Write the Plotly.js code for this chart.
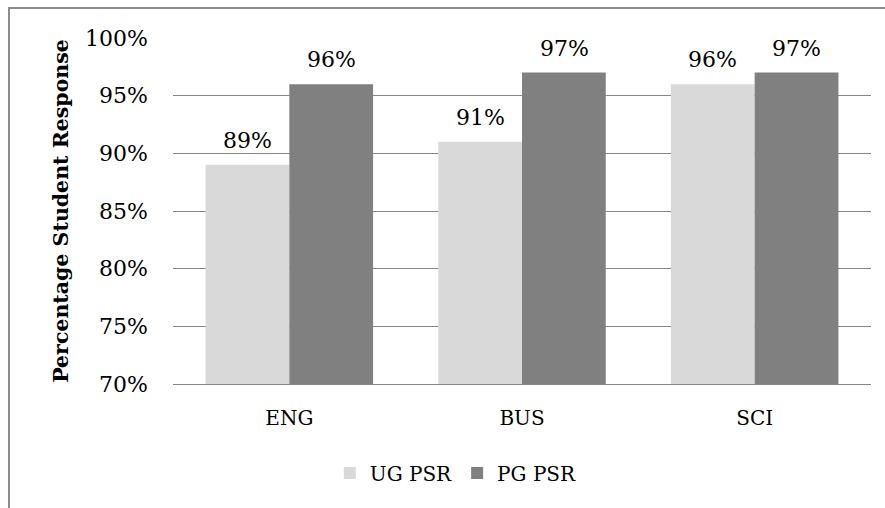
<!DOCTYPE html>
<html>
<head>
<meta charset="utf-8">
<script src="https://cdn.plot.ly/plotly-3.0.1.min.js"></script>
<style>
  body { margin: 0; background: #fff; }
  #wrap { position: relative; width: 885px; height: 508px; overflow: hidden; }
  #chart { width: 885px; height: 508px; }
  #frame { position: absolute; left: 8px; top: 7px; width: 900px; height: 520px;
           border: 2px solid #8c8c8c; pointer-events: none; box-sizing: border-box; }
</style>
</head>
<body>
<div id="wrap"><div id="chart"></div><div id="frame"></div></div>
<script>
const categories = ["ENG", "BUS", "SCI"];
const ugValues = [0.89, 0.91, 0.96];
const pgValues = [0.96, 0.97, 0.97];
const seriesNames = ["UG PSR", "PG PSR"];
const yTickVals = [0.70, 0.75, 0.80, 0.85, 0.90, 0.95, 1.00];
const yTickText = ["70%", "75%", "80%", "85%", "90%", "95%", "100%"];

const font = "DejaVu Serif";
const traces = [
  { type: "bar", name: seriesNames[0], x: categories, y: ugValues,
    marker: { color: "#d9d9d9" }, hoverinfo: "skip" },
  { type: "bar", name: seriesNames[1], x: categories, y: pgValues,
    marker: { color: "#808080" }, hoverinfo: "skip" }
];

const annotations = [];
const offsets = [-42, 42];
[ugValues, pgValues].forEach((vals, s) => {
  vals.forEach((v, i) => {
    annotations.push({
      x: categories[i], y: v, xref: "x", yref: "y",
      text: Math.round(v * 100) + "%", showarrow: false,
      xshift: offsets[s], yshift: 10, yanchor: "bottom",
      font: { family: font, size: 22, color: "#000" }
    });
  });
});

const layout = {
  width: 885, height: 508,
  margin: { l: 173, r: 14, t: 38, b: 124 },
  paper_bgcolor: "#fff", plot_bgcolor: "#fff",
  barmode: "group", bargap: 0.28, bargroupgap: 0,
  font: { family: font, size: 20, color: "#000" },
  xaxis: {
    type: "category", showgrid: false, zeroline: false,
    showline: true, linecolor: "#868686", linewidth: 1,
    ticks: "", tickfont: { family: font, size: 20 }, ticklabelstandoff: 16
  },
  yaxis: {
    range: [0.70, 1.00], tickvals: yTickVals, ticktext: yTickText,
    showgrid: true, gridcolor: "#868686", gridwidth: 1,
    zeroline: false, showline: false, ticks: "",
    tickfont: { family: font, size: 22 }, ticklabelstandoff: 24,
    title: { text: "Percentage Student Response", standoff: 10,
             font: { family: font, size: 20.5, weight: "bold", color: "#000" } }
  },
  showlegend: true,
  legend: {
    orientation: "h", xref: "container", yref: "container",
    x: 0.515, y: 0.069, xanchor: "center", yanchor: "middle",
    font: { family: font, size: 20 }, itemwidth: 20, traceorder: "normal"
  },
  annotations: annotations
};

Plotly.newPlot("chart", traces, layout, { displayModeBar: false, staticPlot: true });
</script>
</body>
</html>
